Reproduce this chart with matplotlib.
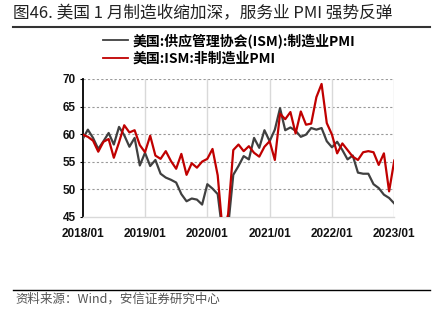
import numpy as np
import matplotlib
matplotlib.use('Agg')
import matplotlib.pyplot as plt
from matplotlib.lines import Line2D

plt.rcParams['font.family'] = ['Noto Sans CJK SC', 'DejaVu Sans']
plt.rcParams['axes.unicode_minus'] = False

# 数据: 2018/01 - 2023/01 月度
mfg_pmi = [59.1, 60.8, 59.3, 57.3, 58.7, 60.2, 58.1, 61.3, 59.8, 57.7, 59.3, 54.3,
           56.6, 54.2, 55.3, 52.8, 52.1, 51.7, 51.2, 49.1, 47.8, 48.3, 48.1, 47.2,
           50.9, 50.1, 49.1, 41.5, 43.1, 52.6, 54.2, 56.0, 55.4, 59.3, 57.5, 60.7,
           58.7, 60.8, 64.7, 60.7, 61.2, 60.6, 59.5, 59.9, 61.1, 60.8, 61.1, 58.7,
           57.6, 58.6, 57.1, 55.4, 56.1, 53.0, 52.8, 52.8, 50.9, 50.2, 49.0, 48.4,
           47.4]
nonmfg_pmi = [59.9, 59.5, 58.8, 56.8, 58.6, 59.1, 55.7, 58.5, 61.6, 60.3, 60.7, 58.0,
              56.7, 59.7, 56.1, 55.5, 56.9, 55.1, 53.7, 56.4, 52.6, 54.7, 53.9, 55.0,
              55.5, 57.3, 52.5, 41.8, 45.4, 57.1, 58.1, 56.9, 57.8, 56.6, 55.9, 57.7,
              58.7, 55.3, 63.7, 62.7, 64.0, 60.1, 64.1, 61.7, 61.9, 66.7, 69.1, 62.0,
              59.9, 56.5, 58.3, 57.1, 55.9, 55.3, 56.7, 56.9, 56.7, 54.4, 56.5, 49.6,
              55.2]
xtick_labels = ['2018/01', '2019/01', '2020/01', '2021/01', '2022/01', '2023/01']
legend_labels = ['美国:供应管理协会(ISM):制造业PMI', '美国:ISM:非制造业PMI']

fig = plt.figure(figsize=(4.34, 3.26), dpi=100)
ax = fig.add_axes([0.1905, 0.3353, 0.718, 0.4224])

x = np.arange(len(mfg_pmi))
ax.plot(x, mfg_pmi, color='#404040', lw=1.6, zorder=3, solid_joinstyle='round')
ax.plot(x, nonmfg_pmi, color='#C00000', lw=1.6, zorder=4, solid_joinstyle='round')

ax.set_xlim(0, 60)
ax.set_ylim(45, 70)
ax.set_yticks([45, 50, 55, 60, 65, 70])
ax.set_xticks(np.arange(0, 61, 12))
ax.set_xticklabels(xtick_labels)

for yv in [50, 55, 60, 65, 70]:
    ax.axhline(yv, color='#9a9a9a', lw=0.8, ls=(0, (2, 2)), zorder=1)
for xv in np.arange(12, 61, 12):
    ax.axvline(xv, color='#d9d9d9', lw=1.0, zorder=1)

for s in ['top', 'right']:
    ax.spines[s].set_visible(False)
ax.spines['left'].set_color('black')
ax.spines['left'].set_linewidth(1.3)
ax.spines['bottom'].set_color('#d9d9d9')
ax.spines['bottom'].set_linewidth(1.0)

ax.tick_params(axis='y', length=2, width=0.8, color='black', pad=3)
ax.tick_params(axis='x', length=0, pad=8)
for lab in ax.get_xticklabels() + ax.get_yticklabels():
    lab.set_fontfamily('Liberation Sans')
    lab.set_fontweight('bold')
    lab.set_fontsize(8.5)
    lab.set_color('#111111')

handles = [Line2D([], [], color='#404040', lw=1.3),
           Line2D([], [], color='#C00000', lw=1.3)]
fig.legend(handles, legend_labels, loc='upper left', bbox_to_anchor=(0.238, 0.898),
           frameon=False, handlelength=1.8, handletextpad=0.3, labelspacing=0.25,
           borderpad=0, borderaxespad=0,
           prop={'family': ['Noto Sans CJK SC', 'DejaVu Sans'], 'size': 10, 'weight': 'bold'})

# 标题与来源
fig.text(0.03, 0.957, '图46. 美国 1 月制造收缩加深，服务业 PMI 强势反弹', fontsize=12,
         color='#222222', va='center', ha='left')
fig.add_artist(Line2D([0.03, 0.99], [0.918, 0.918], color='#333333', lw=1.5))
fig.add_artist(Line2D([0.03, 0.99], [0.11, 0.11], color='black', lw=1.0))
fig.text(0.035, 0.083, '资料来源：Wind，安信证券研究中心', fontsize=9, color='#555555',
         style='italic', va='center', ha='left')

plt.savefig('out.png', dpi=100)
